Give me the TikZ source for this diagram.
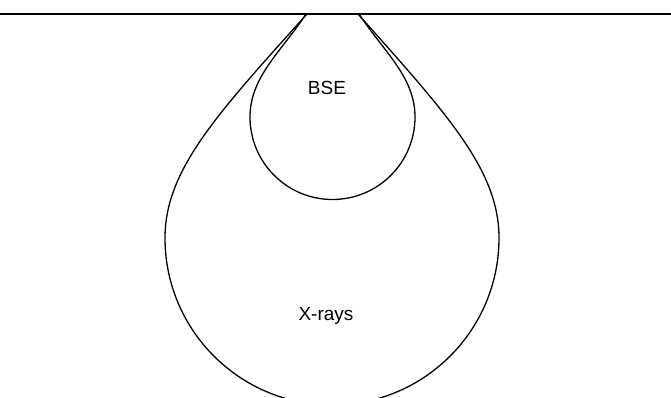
\documentclass[tikz,border=0pt]{standalone}
\usepackage{fontspec}
\setmainfont{Liberation Sans}
\begin{document}
\begin{tikzpicture}[x=1pt,y=-1pt,
  outline/.style={draw=black,line width=1.3pt},
  lbl/.style={font=\fontsize{19}{22}\selectfont,inner sep=0pt}]
\useasboundingbox (0,0) rectangle (671,398);
\clip (0,0) rectangle (671,398);
% surface
\coordinate (sl) at (0,14);
\coordinate (sr) at (671,14);
\draw[line width=1.5pt] (sl) -- (sr);
% BSE drop
\coordinate (bnl) at (306,14);
\coordinate (bnr) at (359,14);
\coordinate (bl) at (250,117);
\coordinate (br) at (415,117);
\draw[outline] (bnl) .. controls (281,52) and (250,77) .. (bl)
  arc[start angle=180,end angle=360,x radius=82.5,y radius=-82.5]
  .. controls (415,77) and (384,52) .. (bnr);
% X-ray drop
\coordinate (xnl) at (307,14);
\coordinate (xnr) at (358,14);
\coordinate (xl) at (165,238);
\coordinate (xr) at (499,238);
\draw[outline] (xnl) .. controls (217,114) and (165,170) .. (xl)
  arc[start angle=180,end angle=360,x radius=167,y radius=-167]
  .. controls (499,170) and (447,114) .. (xnr);
\node[lbl] (bse) at (327,88) {BSE};
\node[lbl] (xr) at (326,316) {X-rays};
\end{tikzpicture}
\end{document}
